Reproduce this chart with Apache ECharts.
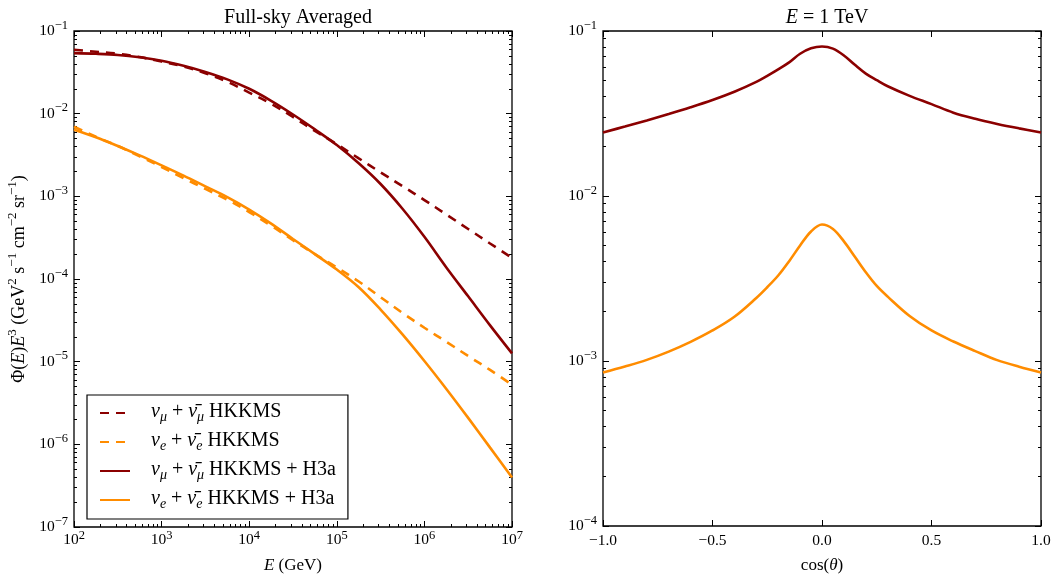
<!DOCTYPE html>
<html><head><meta charset="utf-8">
<script src="https://cdn.jsdelivr.net/npm/echarts@6/dist/echarts.min.js"></script>
<style>html,body{margin:0;padding:0;background:#fff}#c{width:1055px;height:579px}</style>
</head><body><div id="c"></div>
<script>
// ---- data ----
const energies = [1e2, 1.78e2, 3.16e2, 5.62e2, 1e3, 1.78e3, 3.16e3, 5.62e3, 1e4, 1.78e4, 3.16e4, 5.62e4,
                  1e5, 1.78e5, 3.16e5, 5.62e5, 1e6, 1.78e6, 3.16e6, 5.62e6, 1e7];
const numuHKKMS = [0.0592, 0.0562, 0.0531, 0.0484, 0.0427, 0.0372, 0.0309, 0.0243, 0.0180, 0.0132, 0.00912, 0.00617,
                   0.00427, 0.00288, 0.00195, 0.00133, 9.02e-4, 6.03e-4, 4.03e-4, 2.69e-4, 1.80e-4];
const nueHKKMS  = [0.00695, 0.00525, 0.00407, 0.00305, 0.00226, 0.00166, 0.00123, 9.12e-4, 6.46e-4, 4.42e-4, 2.95e-4, 2.00e-4,
                   1.38e-4, 9.33e-5, 6.03e-5, 3.89e-5, 2.57e-5, 1.74e-5, 1.17e-5, 7.94e-6, 5.25e-6];
const numuH3a   = [0.0540, 0.0530, 0.0513, 0.0481, 0.0437, 0.0380, 0.0320, 0.0260, 0.0200, 0.0143, 0.00977, 0.00646,
                   0.00417, 0.00251, 0.00141, 7.08e-4, 3.24e-4, 1.38e-4, 6.17e-5, 2.75e-5, 1.26e-5];
const nueH3a    = [0.00638, 0.00519, 0.00407, 0.00313, 0.00237, 0.00178, 0.00132, 9.77e-4, 6.92e-4, 4.68e-4, 3.05e-4, 2.00e-4,
                   1.30e-4, 7.94e-5, 4.27e-5, 2.14e-5, 1.02e-5, 4.68e-6, 2.09e-6, 9.12e-7, 3.98e-7];

const cosTheta  = [-1.0, -0.9, -0.8, -0.7, -0.6, -0.5, -0.4, -0.3, -0.25, -0.2, -0.15, -0.1, -0.05, 0.0,
                   0.05, 0.1, 0.15, 0.2, 0.25, 0.3, 0.4, 0.5, 0.6, 0.7, 0.8, 0.9, 1.0];
const numu1TeV  = [0.02427, 0.02636, 0.02871, 0.03141, 0.03451, 0.03819, 0.04285, 0.04920, 0.05346, 0.05861, 0.06457, 0.07278, 0.07852, 0.08054,
                   0.07816, 0.07112, 0.06237, 0.05521, 0.05035, 0.04624, 0.04046, 0.03606, 0.03199, 0.02938, 0.02735, 0.02570, 0.02427];
const nue1TeV   = [8.53e-4, 9.27e-4, 1.016e-3, 1.140e-3, 1.306e-3, 1.531e-3, 1.854e-3, 2.410e-3, 2.80e-3, 3.296e-3, 4.027e-3, 5.012e-3, 6.095e-3, 6.714e-3,
                   6.310e-3, 5.309e-3, 4.285e-3, 3.451e-3, 2.85e-3, 2.455e-3, 1.875e-3, 1.531e-3, 1.312e-3, 1.148e-3, 1.012e-3, 9.23e-4, 8.53e-4];

const leftXDecades  = [2, 3, 4, 5, 6, 7];        // 10^2 .. 10^7 GeV
const leftYDecades  = [-7, -6, -5, -4, -3, -2, -1];
const rightYDecades = [-4, -3, -2, -1];
const rightXTicks   = [-1.0, -0.5, 0.0, 0.5, 1.0];

const seriesNames = ['numuHKKMS', 'nueHKKMS', 'numuH3a', 'nueH3a'];
const legendLabels = {
  numuHKKMS: '{g|ν}{sb|μ}{n| + }{g|ν̄}{sb|μ}{n| HKKMS}',
  nueHKKMS:  '{g|ν}{sb|e}{n| + }{g|ν̄}{sb|e}{n| HKKMS}',
  numuH3a:   '{g|ν}{sb|μ}{n| + }{g|ν̄}{sb|μ}{n| HKKMS + H3a}',
  nueH3a:    '{g|ν}{sb|e}{n| + }{g|ν̄}{sb|e}{n| HKKMS + H3a}'
};

// ---- styling ----
const FONT = '"Liberation Serif", "DejaVu Serif", serif';
const DARK = '#8b0000', ORANGE = '#ff8c00';
const LW = 2.6, DASH = [9, 7];

function minorLogs(decades) {
  const out = [];
  for (let i = 0; i < decades.length - 1; i++)
    for (let k = 2; k <= 9; k++) out.push(decades[i] + Math.log10(k));
  return out;
}
function supRich(lh) {
  return {
    b: { fontFamily: FONT, fontSize: 15.5, color: '#000', verticalAlign: 'middle', lineHeight: lh },
    s: { fontFamily: FONT, fontSize: 12.5, color: '#000', verticalAlign: 'top', lineHeight: lh }
  };
}
function logLabel(v) {
  const e = Math.round(Math.log10(v));
  return '{b|10}{s|' + (e < 0 ? '−' : '') + Math.abs(e) + '}';
}
const TICK = { color: '#000', width: 1 };
const NOLINE = { show: false, onZero: false };

function tickAxis(type, grid, pos, opts) {
  // axis that only draws inward ticks (major ticks, or minor ticks via customValues)
  return Object.assign({
    type: type, gridIndex: grid, position: pos,
    axisLine: NOLINE, splitLine: { show: false },
    axisLabel: { show: false },
    axisTick: { show: true, inside: true, length: 6, lineStyle: TICK }
  }, opts);
}
function minorAxis(grid, pos, decades) {
  return tickAxis('value', grid, pos, { min: decades[0], max: decades[decades.length - 1],
    axisTick: { show: true, inside: true, length: 3, customValues: minorLogs(decades), lineStyle: TICK } });
}
const nameRich = {
  i: { fontFamily: FONT, fontSize: 17, fontStyle: 'italic', color: '#000' },
  n: { fontFamily: FONT, fontSize: 17, color: '#000' }
};

const xAxes = [
  // left grid
  {
    type: 'log', gridIndex: 0, position: 'bottom', min: 1e2, max: 1e7, logBase: 10,
    axisLine: NOLINE, splitLine: { show: false },
    axisTick: { show: true, inside: true, length: 6, lineStyle: TICK },
    axisLabel: { show: true, formatter: logLabel, rich: supRich(22), margin: 2 },
    name: '{i|E}{n| (GeV)}', nameLocation: 'middle', nameGap: 30,
    nameTextStyle: { rich: nameRich }
  },
  minorAxis(0, 'bottom', leftXDecades),
  tickAxis('log', 0, 'top', { min: 1e2, max: 1e7, logBase: 10 }),
  minorAxis(0, 'top', leftXDecades),
  // right grid
  {
    type: 'value', gridIndex: 1, position: 'bottom', min: rightXTicks[0], max: rightXTicks[rightXTicks.length - 1], interval: 0.5,
    axisLine: NOLINE, splitLine: { show: false },
    axisTick: { show: true, inside: true, length: 6, lineStyle: TICK },
    axisLabel: { show: true, margin: 7, fontFamily: FONT, fontSize: 15.5, color: '#000',
      formatter: v => (v < 0 ? '−' : '') + Math.abs(v).toFixed(1) },
    name: '{n|cos(}{i|θ}{n|)}', nameLocation: 'middle', nameGap: 31,
    nameTextStyle: { rich: nameRich }
  },
  tickAxis('value', 1, 'top', { min: rightXTicks[0], max: rightXTicks[rightXTicks.length - 1], interval: 0.5 })
];

const yAxes = [
  {
    type: 'log', gridIndex: 0, position: 'left', min: 1e-7, max: 1e-1, logBase: 10,
    axisLine: NOLINE, splitLine: { show: false },
    axisTick: { show: true, inside: true, length: 6, lineStyle: TICK },
    axisLabel: { show: true, formatter: logLabel, rich: supRich(24), margin: 6 },
    name: '{n|Φ(}{i|E}{n|)}{i|E}{s|3}{n| (GeV}{s|2}{n| s}{s|−1}{n| cm}{s|−2}{n| sr}{s|−1}{n|)}',
    nameLocation: 'middle', nameGap: 46, nameRotate: 90,
    nameTextStyle: { rich: {
      i: { fontFamily: FONT, fontSize: 18, fontStyle: 'italic', color: '#000', verticalAlign: 'bottom', lineHeight: 22 },
      n: { fontFamily: FONT, fontSize: 18, color: '#000', verticalAlign: 'bottom', lineHeight: 22 },
      s: { fontFamily: FONT, fontSize: 13, color: '#000', verticalAlign: 'top', lineHeight: 22 } } }
  },
  minorAxis(0, 'left', leftYDecades),
  tickAxis('log', 0, 'right', { min: 1e-7, max: 1e-1, logBase: 10 }),
  minorAxis(0, 'right', leftYDecades),
  {
    type: 'log', gridIndex: 1, position: 'left', min: 1e-4, max: 1e-1, logBase: 10,
    axisLine: NOLINE, splitLine: { show: false },
    axisTick: { show: true, inside: true, length: 6, lineStyle: TICK },
    axisLabel: { show: true, formatter: logLabel, rich: supRich(24), margin: 6 }
  },
  minorAxis(1, 'left', rightYDecades),
  tickAxis('log', 1, 'right', { min: 1e-4, max: 1e-1, logBase: 10 }),
  minorAxis(1, 'right', rightYDecades)
];

function pairs(xs, ys) { return xs.map((x, i) => [x, ys[i]]); }
function lineSeries(name, xs, ys, color, dashed, xi, yi) {
  return {
    name: name, type: 'line', xAxisIndex: xi, yAxisIndex: yi,
    data: pairs(xs, ys), symbol: 'none', showSymbol: false, smooth: 0.35,
    lineStyle: { color: color, width: LW, type: dashed ? DASH : 'solid', cap: 'butt' },
    itemStyle: { color: color }, z: dashed ? 2 : 3
  };
}

const series = [
  lineSeries('numuHKKMS', energies, numuHKKMS, DARK, true, 0, 0),
  lineSeries('nueHKKMS', energies, nueHKKMS, ORANGE, true, 0, 0),
  lineSeries('numuH3a', energies, numuH3a, DARK, false, 0, 0),
  lineSeries('nueH3a', energies, nueH3a, ORANGE, false, 0, 0),
  lineSeries('numu1TeV', cosTheta, numu1TeV, DARK, false, 4, 4),
  lineSeries('nue1TeV', cosTheta, nue1TeV, ORANGE, false, 4, 4)
];

const chart = echarts.init(document.getElementById('c'), null, { renderer: 'canvas' });
chart.setOption({
  animation: false,
  backgroundColor: '#fff',
  textStyle: { fontFamily: FONT },
  title: [
    { text: 'Full-sky Averaged', left: 293, top: 3, textAlign: 'center',
      textStyle: { fontFamily: FONT, fontSize: 20, fontWeight: 'normal', color: '#000' } },
    { text: '{i|E}{n| = 1 TeV}', left: 822, top: 3, textAlign: 'center',
      textStyle: { fontWeight: 'normal', rich: {
        i: { fontFamily: FONT, fontSize: 20, fontStyle: 'italic', fontWeight: 'normal', color: '#000' },
        n: { fontFamily: FONT, fontSize: 20, fontWeight: 'normal', color: '#000' } } } }
  ],
  grid: [
    { left: 74, top: 31, width: 438, height: 499, show: true, borderColor: '#000', borderWidth: 1.3, backgroundColor: 'transparent' },
    { left: 603, top: 31, width: 438, height: 499, show: true, borderColor: '#000', borderWidth: 1.3, backgroundColor: 'transparent' }
  ],
  legend: {
    data: seriesNames, orient: 'vertical', left: 87, top: 395,
    itemWidth: 30, itemHeight: 14, itemGap: 7,
    padding: [7, 12, 8, 12],
    borderColor: '#000', borderWidth: 1.2, backgroundColor: '#fff',
    itemStyle: { opacity: 0 },
    formatter: n => legendLabels[n],
    textStyle: { padding: [0, 0, 0, 16], rich: {
      g: { fontFamily: FONT, fontSize: 20, fontStyle: 'italic', color: '#000', verticalAlign: 'top', lineHeight: 22 },
      n: { fontFamily: FONT, fontSize: 20, color: '#000', verticalAlign: 'top', lineHeight: 22 },
      sb: { fontFamily: FONT, fontSize: 14, fontStyle: 'italic', color: '#000', verticalAlign: 'bottom', lineHeight: 22 }
    } }
  },
  xAxis: xAxes,
  yAxis: yAxes,
  series: series
});
</script>
</body></html>
